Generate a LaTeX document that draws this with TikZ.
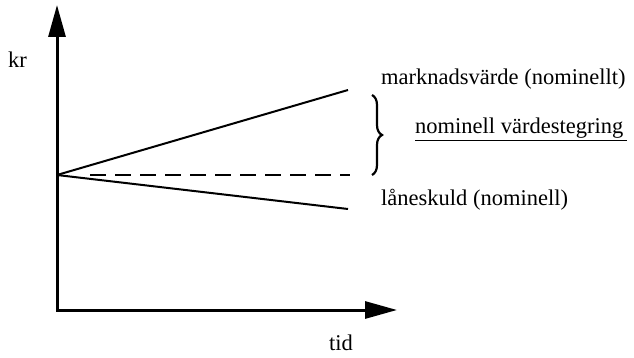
\documentclass[tikz,border=0pt]{standalone}
\usepackage{fontspec}
\setmainfont{Liberation Serif}
\usetikzlibrary{arrows.meta,decorations.pathreplacing}
\begin{document}
\begin{tikzpicture}[x=1pt,y=-1pt,
  axis/.style={line width=3pt,line join=miter,{Triangle[length=32pt,width=17pt]}-{Triangle[length=32pt,width=17pt]}},
  curve/.style={line width=2pt},
  lbl/.style={inner sep=0pt,anchor=base west,font=\fontsize{22.5}{26}\selectfont}]
\useasboundingbox (0,0) rectangle (634,358);
\coordinate (O) at (57,310);
\coordinate (Y) at (57,5);
\coordinate (X) at (397,310);
\coordinate (S) at (57,175);
\coordinate (U) at (348,90);
\coordinate (L) at (348,209);
\coordinate (D) at (350,175);
\draw[axis] (Y) -- (O) -- (X);
\draw[curve] (S) -- (U);
\draw[curve] (S) -- (L);
\draw[line width=2pt,dash pattern=on 16pt off 9pt] (S) ++(33,0) -- (D);
\draw[line width=2.2pt,decorate,decoration={brace,amplitude=10pt}] (372,95) coordinate (B1) -- (372,175) coordinate (B2);
\node[lbl] (kr) at (8,68) {kr};
\node[lbl] (tid) at (329,350) {tid};
\node[lbl] (mv) at (381,85) {marknadsvärde (nominellt)};
\node[lbl] (nv) at (415,134) {\underline{nominell värdestegring\,}};
\node[lbl] (ls) at (381,205) {låneskuld (nominell)};
\end{tikzpicture}
\end{document}
